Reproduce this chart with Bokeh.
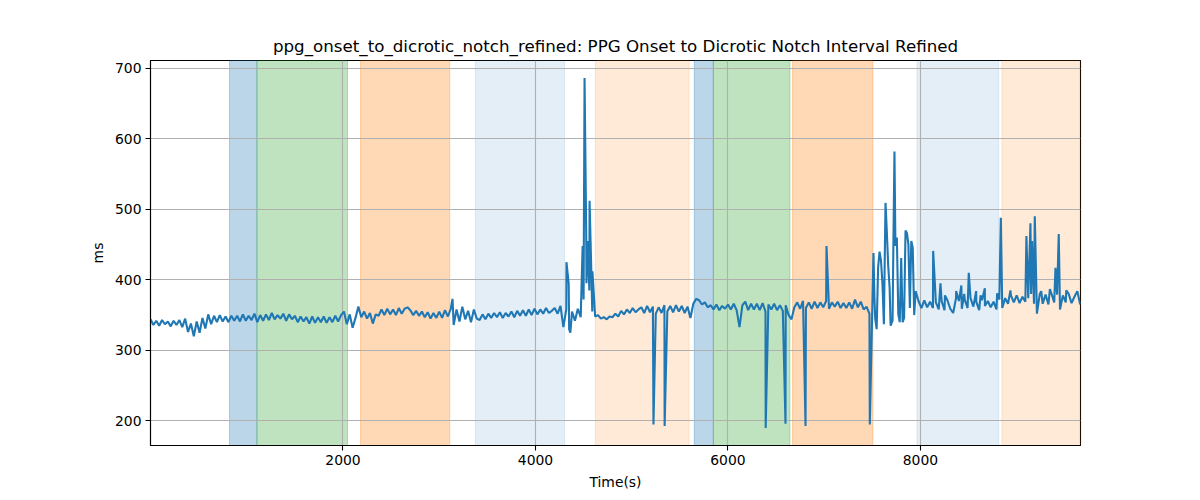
from bokeh.plotting import figure
from bokeh.models import BoxAnnotation, FixedTicker, Range1d
from bokeh.embed import file_html
from bokeh.resources import INLINE

TITLE = "ppg_onset_to_dicrotic_notch_refined: PPG Onset to Dicrotic Notch Interval Refined"

base_t0 = 0
base_step = 30
base_values = [
    344, 336, 342, 335, 343, 337, 341, 334, 342, 336,
    343, 333, 345, 326, 338, 320, 341, 325, 346, 331,
    351, 337, 349, 340, 350, 341, 348, 340, 349, 342,
    349, 341, 351, 342, 349, 343, 352, 340, 350, 342,
    351, 343, 353, 344, 350, 345, 352, 342, 351, 344,
    349, 340, 348, 341, 347, 338, 348, 339, 347, 340,
    348, 339, 347, 340, 349, 341, 350, 355, 337, 351,
    332, 346, 362, 347, 355, 345, 353, 338, 351, 349,
    358, 350, 359, 351, 358, 350, 360, 352, 359, 361,
    357, 350, 356, 349, 355, 347, 354, 345, 353, 346,
    355, 346, 357, 348, 359, 336, 358, 341, 362, 344,
    356, 340, 358, 345, 343, 351, 344, 352, 346, 353,
    347, 354, 346, 353, 348, 355, 347, 356, 349, 357,
    349, 358, 350, 359, 351, 358, 352, 360, 353, 356,
    360, 352, 363, 333, 358, 330, 355, 342, 359, 347,
    372, 395, 385, 355, 348, 350, 345, 347, 344, 348,
    347, 352, 348, 356, 351, 358, 353, 360, 354, 358,
    361, 353, 363, 354, 362, 352, 361, 353, 364, 355,
    363, 354, 364, 355, 363, 353, 362, 346, 366, 373,
    371, 365, 368, 361, 364, 358, 365, 357, 363, 359,
    365, 358, 366, 357, 333, 364, 369, 357, 366, 358,
    366, 357, 367, 355, 365, 358, 366, 357, 364, 356,
    364, 350, 344, 361, 368, 359, 370, 360, 368, 359,
    369, 360, 368, 361, 370, 359, 368, 362, 369, 360,
    367, 360, 368, 359, 372, 361, 369, 358, 362, 352,
    362, 345, 417, 427, 337, 470, 388, 342, 448, 351,
    431, 346, 466, 360, 445, 384, 370, 360, 371, 361,
    369, 360, 368, 358, 370, 357, 371, 359, 353, 374,
    370, 359, 372, 360, 374, 362, 369, 357, 371, 363,
    370, 361, 369, 358, 372, 360, 374, 366, 378, 368,
    378, 367, 376, 369, 374, 380, 366, 352, 380, 366,
    379, 365, 381, 368, 379, 358, 378, 368, 380, 367,
    376, 384, 365,
]

# isolated spikes (time, value)
spike_t = [3138, 4322, 4345, 4362, 4490, 4510, 4527, 4542, 4562, 4577, 4592,
           5226, 5342, 6392, 6598, 6806, 7024, 7474, 7512, 7522, 7545, 7575,
           7605, 7637, 7665, 7690, 7730, 7755, 7785, 7815, 7845, 7875, 7905,
           7935, 8132, 8208, 8255, 8371, 8425, 8455, 8502, 8579, 8625, 8669,
           8797, 8835, 8935, 9101, 9143, 9160, 9188, 9255, 9345, 9403, 9437,
           9515]
spike_v = [373, 425, 395, 325, 448, 686, 469, 455, 512, 430, 412,
           195, 193, 190, 196, 193, 448, 195, 438, 374, 330, 440,
           395, 509, 420, 335, 582, 460, 340, 340, 470, 450, 455,
           350, 441, 395, 378, 384, 392, 380, 410, 384, 378, 388,
           381, 488, 385, 462, 480, 455, 490, 384, 387, 417, 465,
           385]

# shaded intervals: (start, end, colour, alpha)
span_start = [821, 1106, 2182, 3375, 4622, 5650, 5848, 6671, 7964, 8846]
span_end = [1106, 2048, 3109, 4303, 5596, 5848, 6644, 7506, 8813, 9663]
span_color = ["#1f77b4", "#2ca02c", "#ff7f0e", "#1f77b4", "#ff7f0e",
              "#1f77b4", "#2ca02c", "#ff7f0e", "#1f77b4", "#ff7f0e"]
span_alpha = [0.3, 0.3, 0.3, 0.12, 0.16, 0.3, 0.3, 0.3, 0.12, 0.16]

x_ticks = [2000, 4000, 6000, 8000]
y_ticks = [200, 300, 400, 500, 600, 700]

# merge baseline and spikes by time
base_t = [base_t0 + i * base_step for i in range(len(base_values))]
pairs = sorted(list(zip(base_t, base_values)) + list(zip(spike_t, spike_v)))
xs = [a for a, _ in pairs]
ys = [b for _, b in pairs]

ymin, ymax = min(ys), max(ys)
pad = (ymax - ymin) * 0.05

p = figure(width=1200, height=500, output_backend="svg", toolbar_location=None,
           x_range=Range1d(0, 9663), y_range=Range1d(ymin - pad, ymax + pad),
           min_border_left=150, min_border_right=120, min_border_top=60,
           min_border_bottom=55, background_fill_color="white",
           border_fill_color="white")

for s, e, c, a in zip(span_start, span_end, span_color, span_alpha):
    p.add_layout(BoxAnnotation(left=s, right=e, fill_color=c, fill_alpha=a,
                               line_color=c, line_alpha=a, line_width=1,
                               level="image"))

p.line(xs, ys, line_color="#1f77b4", line_width=2.1)

p.title.text = TITLE
p.title.align = "center"
p.title.text_font = "DejaVu Sans"
p.title.text_font_size = "16.7px"
p.title.text_font_style = "normal"
p.title.text_color = "black"

p.xaxis.ticker = FixedTicker(ticks=x_ticks)
p.yaxis.ticker = FixedTicker(ticks=y_ticks)
p.xaxis.axis_label = "Time(s)"
p.yaxis.axis_label = "ms"
for ax in (p.xaxis, p.yaxis):
    ax.axis_label_text_font = "DejaVu Sans"
    ax.axis_label_text_font_size = "13.9px"
    ax.axis_label_text_font_style = "normal"
    ax.axis_label_text_color = "black"
    ax.axis_label_standoff = 6
    ax.major_label_text_font = "DejaVu Sans"
    ax.major_label_text_font_size = "13.9px"
    ax.major_label_text_color = "black"
    ax.major_label_standoff = 4
    ax.major_tick_out = 5
    ax.major_tick_in = 0
    ax.minor_tick_out = 0
    ax.minor_tick_in = 0
    ax.axis_line_color = "black"
    ax.axis_line_width = 1.1
    ax.major_tick_line_color = "black"
    ax.major_tick_line_width = 1.1

p.xgrid.grid_line_color = "#b0b0b0"
p.ygrid.grid_line_color = "#b0b0b0"
p.xgrid.grid_line_width = 1.1
p.ygrid.grid_line_width = 1.1
p.outline_line_color = "black"
p.outline_line_width = 1.1
p.outline_line_alpha = 1

open("out.html", "w").write(file_html(p, INLINE))
